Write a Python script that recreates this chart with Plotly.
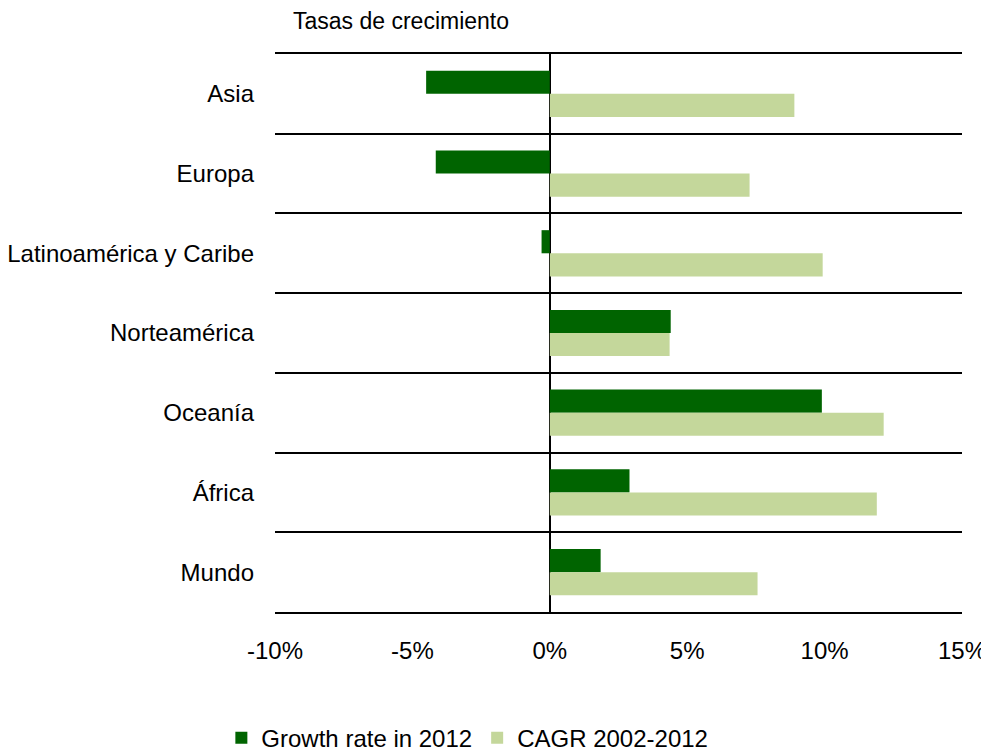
import plotly.graph_objects as go

categories = ["Asia", "Europa", "Latinoamérica y Caribe", "Norteamérica", "Oceanía", "África", "Mundo"]
growth_2012 = [-4.5, -4.15, -0.3, 4.4, 9.9, 2.9, 1.85]
cagr_2002_2012 = [8.9, 7.27, 9.93, 4.36, 12.15, 11.9, 7.56]
x_tickvals = [-10, -5, 0, 5, 10, 15]
x_ticktext = ["-10%", "-5%", "0%", "5%", "10%", "15%"]

FONT = "Liberation Sans, Arial, sans-serif"
FS = 24
W, H = 981, 743  # page body has 8px default margin

fig = go.Figure()
fig.add_trace(go.Bar(
    y=categories, x=growth_2012, orientation="h", name="Growth rate in 2012",
    marker=dict(color="#006400", line=dict(width=0)),
))
fig.add_trace(go.Bar(
    y=categories, x=cagr_2002_2012, orientation="h", name="CAGR 2002-2012",
    marker=dict(color="#C4D79B", line=dict(width=0)),
))

fig.update_layout(
    width=W, height=H,
    margin=dict(l=267, r=27, t=46, b=139, autoexpand=False),
    paper_bgcolor="white", plot_bgcolor="white",
    barmode="group", bargap=0.42, bargroupgap=0,
    font=dict(family=FONT, size=FS, color="black"),
    title=dict(text="Tasas de crecimiento", x=285/W, xanchor="left",
               xref="container", y=1 - 13/H, yref="container", yanchor="middle",
               font=dict(family=FONT, size=23, color="black")),
    legend=dict(orientation="h", x=0.28, xanchor="center", y=-0.226, yanchor="middle",
                font=dict(family=FONT, size=FS), traceorder="normal",
                itemwidth=30, bgcolor="rgba(0,0,0,0)"),
    showlegend=True,
)
fig.update_xaxes(
    range=[-10, 15], tickvals=x_tickvals, ticktext=x_ticktext,
    showgrid=False, zeroline=True, zerolinecolor="black", zerolinewidth=2,
    showline=True, mirror=True, linecolor="black", linewidth=1.5, ticks="",
    ticklabelstandoff=16, tickfont=dict(family=FONT, size=FS),
)
fig.update_yaxes(
    categoryorder="array", categoryarray=categories, autorange="reversed",
    tickson="boundaries", showgrid=True, gridcolor="black", gridwidth=1.5,
    showline=False, ticks="", ticklabelstandoff=20,
    tickfont=dict(family=FONT, size=FS),
)

fig.write_html("out.html")
